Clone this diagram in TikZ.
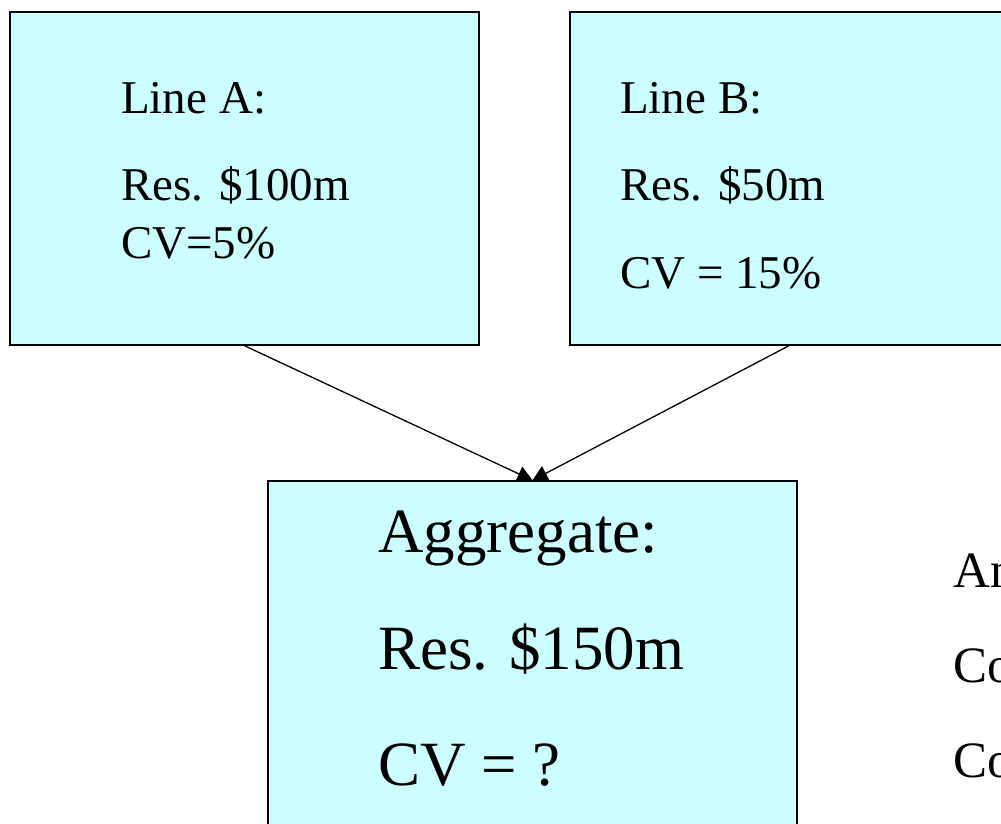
\documentclass[tikz,border=0pt]{standalone}
\usepackage{fontspec}
\setmainfont{Liberation Serif}
\usetikzlibrary{arrows.meta}
\definecolor{boxfill}{RGB}{204,255,255}
\begin{document}
\begin{tikzpicture}[x=1pt,y=1pt,
  panel/.style={draw=black,line width=1.4pt,fill=boxfill,rectangle,inner sep=0pt},
  small/.style={anchor=base west,inner sep=0pt,font=\fontsize{47}{56}\selectfont},
  big/.style={anchor=base west,inner sep=0pt,font=\fontsize{63}{75}\selectfont},
  side/.style={anchor=base west,inner sep=0pt,font=\fontsize{51}{61}\selectfont},
  arr/.style={line width=1.3pt,-{Triangle[width=16pt,length=15pt]}}]
\useasboundingbox (0,0) rectangle (1001,-823);
\clip (0,0) rectangle (1001,-823);
\node[panel,minimum width=469pt,minimum height=333pt] (boxA) at (244.5,-178.5) {};
\node[panel,minimum width=438pt,minimum height=333pt] (boxB) at (789,-178.5) {};
\node[panel,minimum width=529pt,minimum height=419pt] (agg) at (532.5,-690.5) {};
\draw[arr] (boxA.south) -- (agg.north);
\draw[arr] (boxB.south) -- (agg.north);
\node[small] (a1) at (121,-113) {Line A:};
\node[small] (a2) at (121,-200) {Res. \$100m};
\node[small] (a3) at (121,-258) {CV=5\%};
\node[small] (b1) at (620,-113) {Line B:};
\node[small] (b2) at (620,-200) {Res. \$50m};
\node[small] (b3) at (620,-288) {CV = 15\%};
\node[big] (g1) at (378,-552) {Aggregate:};
\node[big] (g2) at (378,-669) {Res. \$150m};
\node[big] (g3) at (378,-785) {CV = ?};
\node[side] (s1) at (953,-587) {An};
\node[side] (s2) at (953,-682) {Co};
\node[side] (s3) at (953,-777) {Co};
\end{tikzpicture}
\end{document}
